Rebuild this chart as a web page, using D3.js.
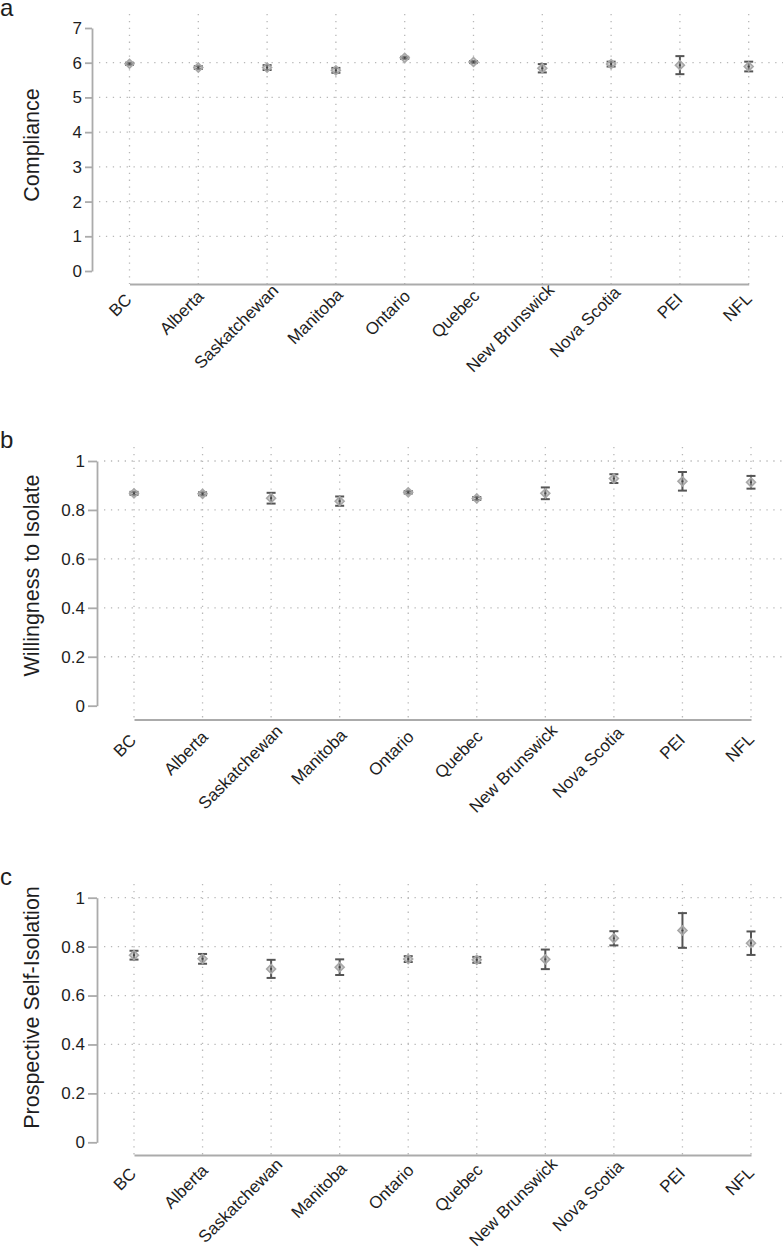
<!DOCTYPE html>
<html>
<head>
<meta charset="utf-8">
<script src="https://cdn.jsdelivr.net/npm/d3@7/dist/d3.min.js"></script>
<style>
  html, body { margin: 0; padding: 0; background: #fff; }
  svg { display: block; }
  text { font-family: "Liberation Sans", Arial, Helvetica, sans-serif; fill: #1e1e1e; }
</style>
</head>
<body>
<svg id="chart" width="784" height="1257"></svg>
<script>
// ---- data ----
const provinces = ["BC", "Alberta", "Saskatchewan", "Manitoba", "Ontario", "Quebec", "New Brunswick", "Nova Scotia", "PEI", "NFL"];

const complianceMean = [5.97, 5.86, 5.86, 5.78, 6.14, 6.02, 5.84, 5.96, 5.93, 5.89];
const complianceErr  = [0.03, 0.04, 0.07, 0.07, 0.03, 0.03, 0.12, 0.07, 0.26, 0.14];

const willingMean = [0.868, 0.866, 0.848, 0.836, 0.872, 0.847, 0.868, 0.928, 0.917, 0.913];
const willingErr  = [0.006, 0.006, 0.022, 0.019, 0.005, 0.006, 0.024, 0.018, 0.038, 0.026];

const prospMean = [0.765, 0.750, 0.709, 0.716, 0.749, 0.746, 0.748, 0.834, 0.866, 0.814];
const prospErr  = [0.018, 0.020, 0.037, 0.032, 0.012, 0.012, 0.040, 0.029, 0.071, 0.048];

const complianceTicks = [0, 1, 2, 3, 4, 5, 6, 7];
const complianceGrid  = [1, 2, 3, 4, 5, 6];
const propTicks = [0, 0.2, 0.4, 0.6, 0.8, 1];
const propTickLabels = ["0", "0.2", "0.4", "0.6", "0.8", "1"];
const propGrid = [0.2, 0.4, 0.6, 0.8, 1];

const panels = [
  { letter: "a", title: "Compliance", mean: complianceMean, err: complianceErr,
    domain: [0, 7], ticks: complianceTicks, tickLabels: complianceTicks.map(String), grid: complianceGrid,
    yAxisX: 92, y0: 271, y1: 28, tickLen: 7, xAxisY: 284, xFirst: 129.5, xLast: 748.7,
    vgTop: 14, letterY: 16, titleY: 145, labOff: 20 },
  { letter: "b", title: "Willingness to Isolate", mean: willingMean, err: willingErr,
    domain: [0, 1], ticks: propTicks, tickLabels: propTickLabels, grid: propGrid,
    yAxisX: 97, y0: 705.7, y1: 461, tickLen: 9, xAxisY: 719.5, xFirst: 134, xLast: 751,
    vgTop: 447, letterY: 448, titleY: 575.5, labOff: 25 },
  { letter: "c", title: "Prospective Self-Isolation", mean: prospMean, err: prospErr,
    domain: [0, 1], ticks: propTicks, tickLabels: propTickLabels, grid: propGrid,
    yAxisX: 97, y0: 1142.3, y1: 897.7, tickLen: 9, xAxisY: 1155, xFirst: 134, xLast: 751,
    vgTop: 884, letterY: 884.5, titleY: 1007.5, labOff: 23 }
];

const svg = d3.select("#chart");
const axisColor = "#ababab";
const gridColor = "#b8b8b8";
const barColor = "#555555";

panels.forEach(p => {
  const g = svg.append("g");
  const x = d3.scalePoint().domain(provinces).range([p.xFirst, p.xLast]);
  const y = d3.scaleLinear().domain(p.domain).range([p.y0, p.y1]);

  // horizontal grid
  g.append("g").selectAll("line").data(p.grid).join("line")
    .attr("x1", p.yAxisX + 7).attr("x2", 783)
    .attr("y1", d => y(d)).attr("y2", d => y(d))
    .attr("stroke", gridColor).attr("stroke-width", 1.3)
    .attr("stroke-dasharray", "1.3,5.6");

  // vertical grid
  g.append("g").selectAll("line").data(provinces).join("line")
    .attr("x1", d => x(d)).attr("x2", d => x(d))
    .attr("y1", p.vgTop).attr("y2", p.xAxisY)
    .attr("stroke", gridColor).attr("stroke-width", 1.3)
    .attr("stroke-dasharray", "1.3,5.6");

  // y axis
  const yAxis = d3.axisLeft(y).tickValues(p.ticks)
    .tickFormat((d, i) => p.tickLabels[i])
    .tickSize(p.tickLen).tickSizeOuter(0).tickPadding(3);
  const ya = g.append("g").attr("transform", `translate(${p.yAxisX},0)`).call(yAxis);
  ya.select(".domain").attr("stroke", axisColor).attr("stroke-width", 1.8);
  ya.selectAll(".tick line").attr("stroke", axisColor).attr("stroke-width", 1.8);
  ya.selectAll(".tick text").attr("font-size", 17).attr("fill", "#1e1e1e")
    .style("font-family", '"Liberation Sans", Arial, sans-serif');

  // x axis
  const xAxis = d3.axisBottom(x).tickSize(0).tickSizeOuter(0).tickFormat("");
  const xa = g.append("g").attr("transform", `translate(0,${p.xAxisY})`).call(xAxis);
  xa.select(".domain").attr("stroke", axisColor).attr("stroke-width", 1.8);

  // category labels (rotated 45 degrees)
  const lab = g.append("g").selectAll("g").data(provinces).join("g")
    .attr("transform", d => `translate(${x(d)},${p.xAxisY + p.labOff}) rotate(-45)`);
  lab.append("text").text(d => d).attr("font-size", 17)
    .attr("text-anchor", "start")
    .each(function() {
      const L = this.getComputedTextLength();
      d3.select(this).attr("x", 1 - 0.85 * L);
    });

  // y title
  g.append("text").text(p.title)
    .attr("transform", `translate(39,${p.titleY}) rotate(-90)`)
    .attr("text-anchor", "middle").attr("font-size", 21.5);

  // panel letter
  g.append("text").text(p.letter).attr("x", 0).attr("y", p.letterY).attr("font-size", 24);

  // error bars + markers
  const pts = provinces.map((c, i) => ({ c, m: p.mean[i], e: p.err[i] }));
  const eg = g.append("g");
  eg.selectAll("line.v").data(pts).join("line").attr("class", "v")
    .attr("x1", d => x(d.c)).attr("x2", d => x(d.c))
    .attr("y1", d => y(d.m - d.e)).attr("y2", d => y(d.m + d.e))
    .attr("stroke", barColor).attr("stroke-width", 2);
  eg.selectAll("line.cl").data(pts).join("line").attr("class", "cl")
    .attr("x1", d => x(d.c) - 4.5).attr("x2", d => x(d.c) + 4.5)
    .attr("y1", d => y(d.m - d.e)).attr("y2", d => y(d.m - d.e))
    .attr("stroke", barColor).attr("stroke-width", 2);
  eg.selectAll("line.cu").data(pts).join("line").attr("class", "cu")
    .attr("x1", d => x(d.c) - 4.5).attr("x2", d => x(d.c) + 4.5)
    .attr("y1", d => y(d.m + d.e)).attr("y2", d => y(d.m + d.e))
    .attr("stroke", barColor).attr("stroke-width", 2);

  const diamond = d3.symbol().type(d3.symbolSquare).size(40);
  eg.selectAll("path.mk").data(pts).join("path").attr("class", "mk")
    .attr("d", diamond)
    .attr("transform", d => `translate(${x(d.c)},${y(d.m)}) rotate(45)`)
    .attr("fill", "rgba(160,160,160,0.5)")
    .attr("stroke", "#a8a8a8").attr("stroke-width", 1.6);
  eg.selectAll("circle.ct").data(pts).join("circle").attr("class", "ct")
    .attr("cx", d => x(d.c)).attr("cy", d => y(d.m)).attr("r", 1.1)
    .attr("fill", "#444");
});
</script>
</body>
</html>
